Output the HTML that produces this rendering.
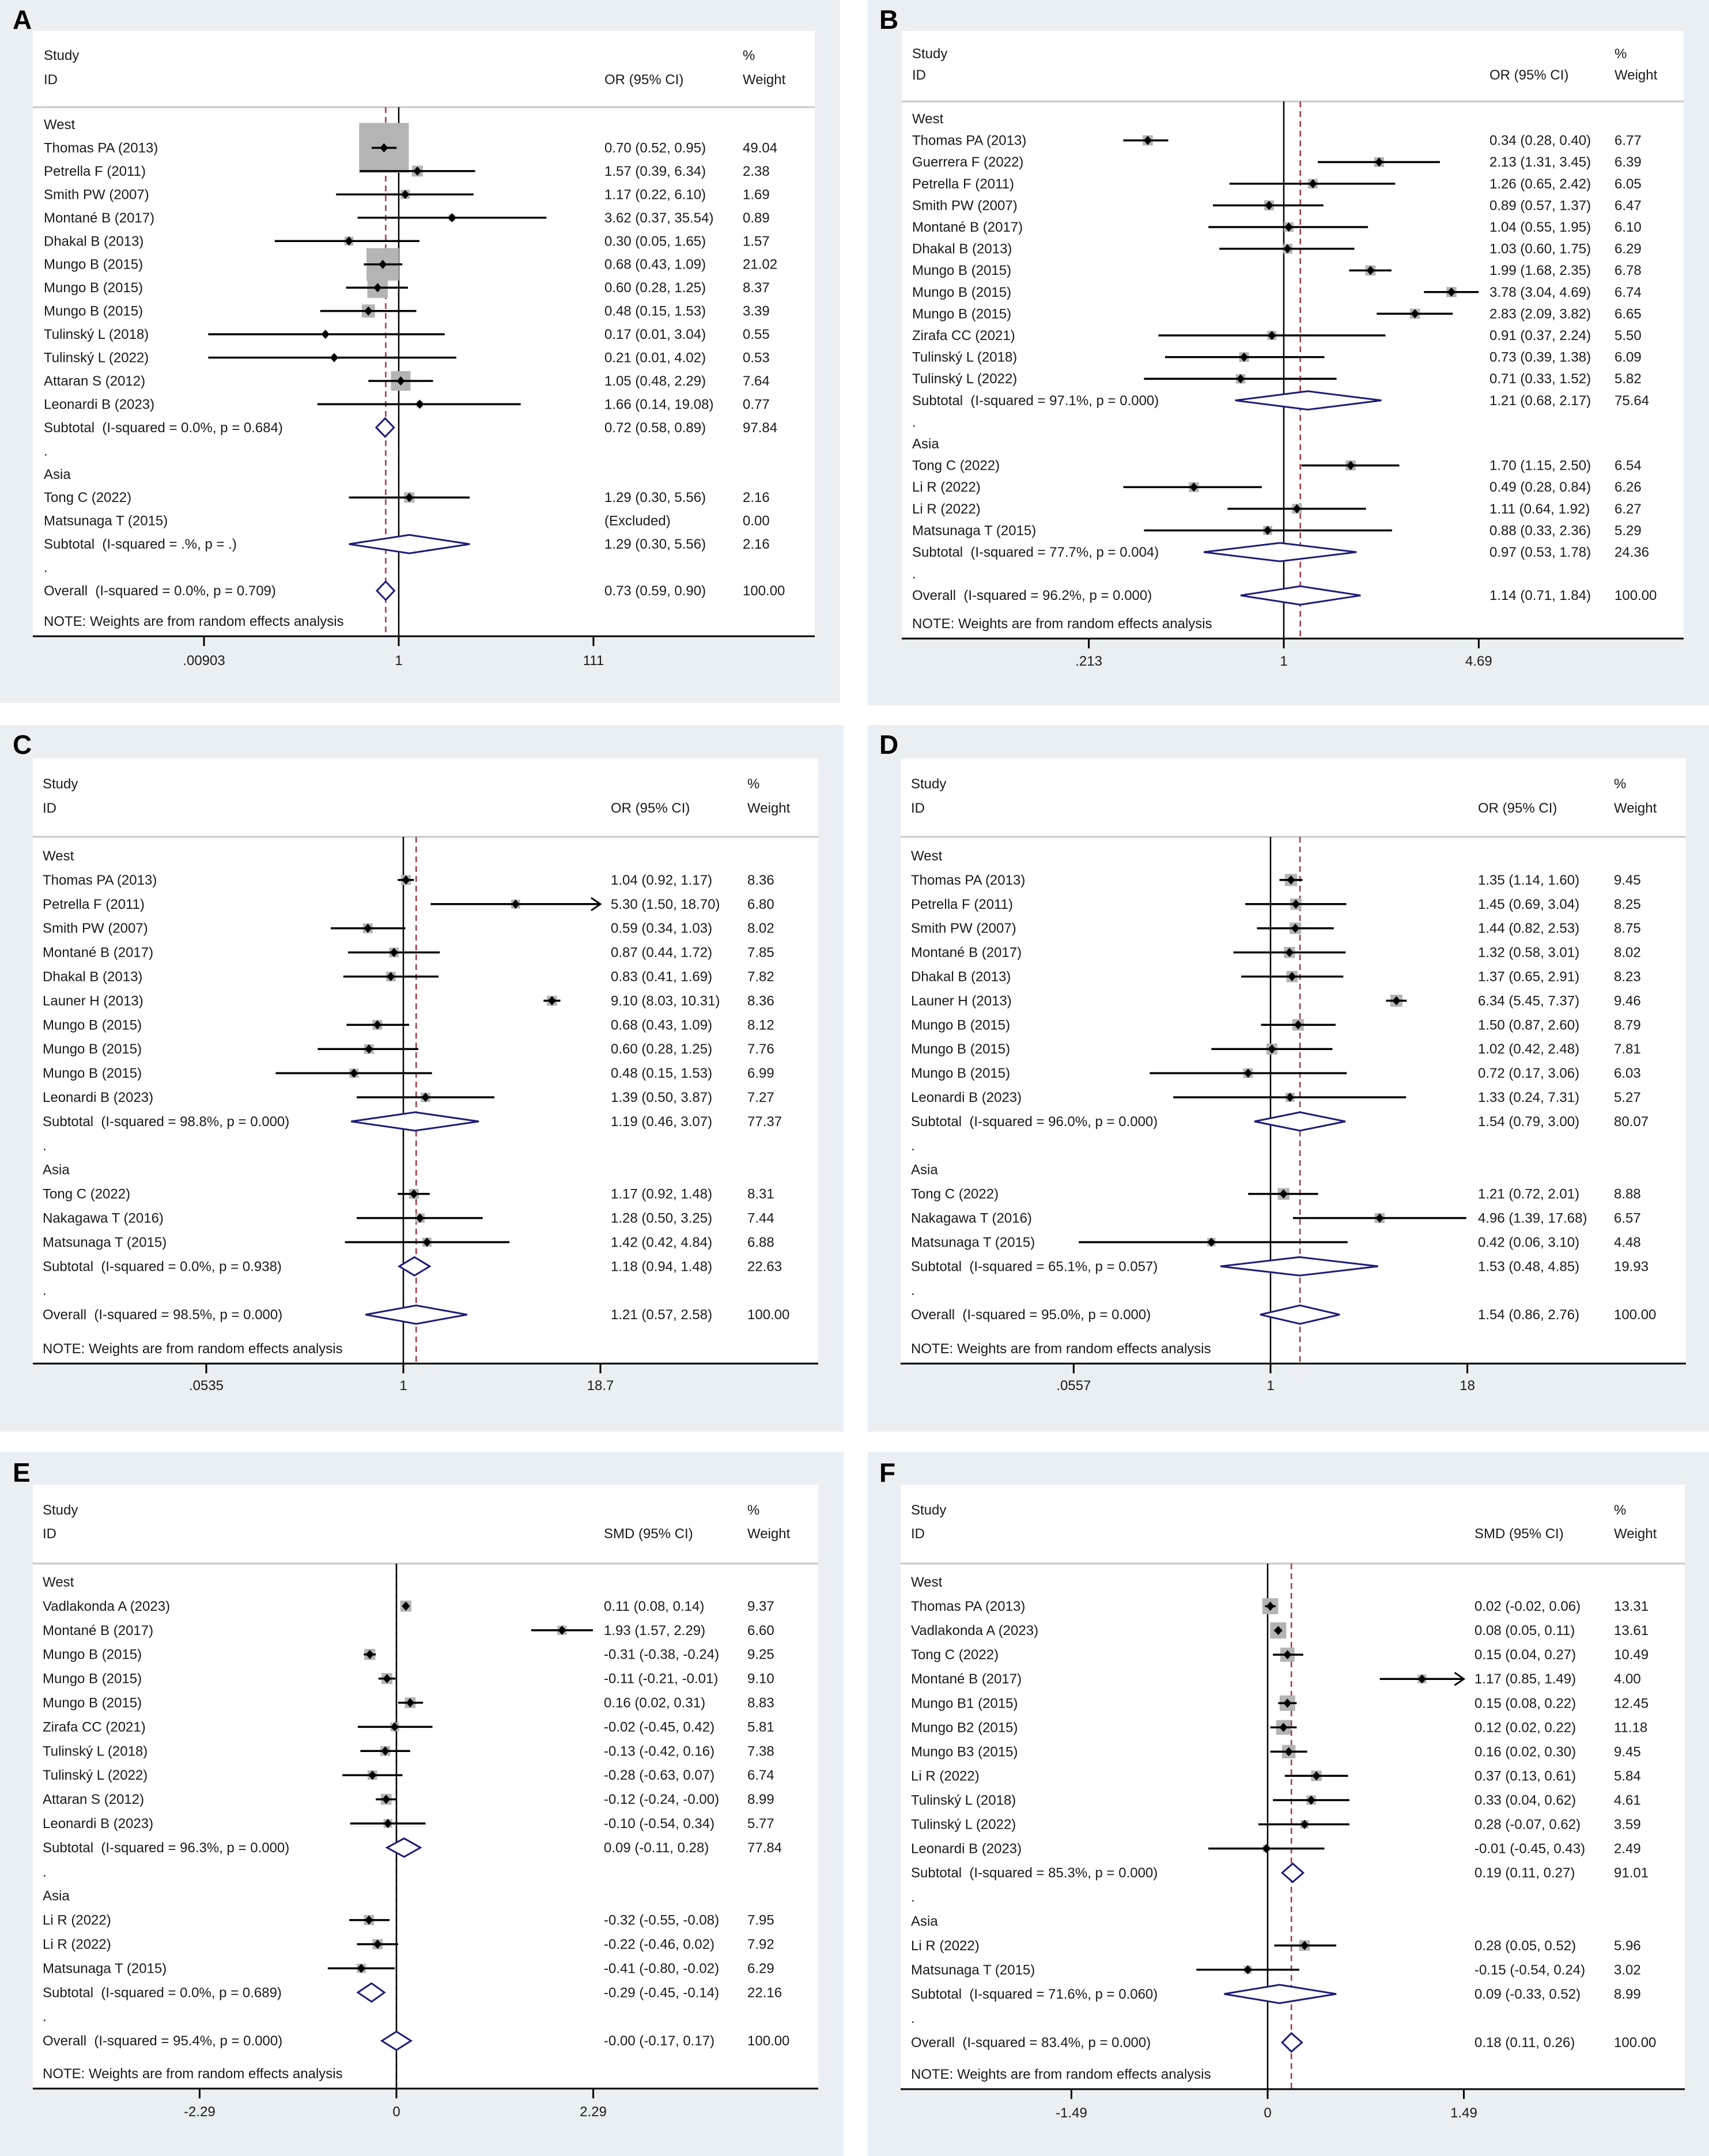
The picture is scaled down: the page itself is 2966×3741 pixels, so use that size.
<!DOCTYPE html>
<html><head><meta charset="utf-8">
<style>
html,body{margin:0;padding:0;background:#fff;}
svg{display:block;font-family:"Liberation Sans",Arial,sans-serif;}
text{white-space:pre;}
</style></head>
<body>
<svg id="fig" xmlns="http://www.w3.org/2000/svg" width="2966" height="3741" viewBox="0 0 2966 3741"></svg>
<script>
// ---------- DATA ----------
// kinds: g = text-only row, s = study, x = excluded study, p = pooled subtotal, o = overall
const aKinds = ['g','s','s','s','s','s','s','s','s','s','s','s','s','p','g','g','s','x','p','g','o'];
const aLabels = ['West','Thomas PA (2013)','Petrella F (2011)','Smith PW (2007)','Montané B (2017)','Dhakal B (2013)','Mungo B (2015)','Mungo B (2015)','Mungo B (2015)','Tulinský L (2018)','Tulinský L (2022)','Attaran S (2012)','Leonardi B (2023)','Subtotal  (I-squared = 0.0%, p = 0.684)','.','Asia','Tong C (2022)','Matsunaga T (2015)','Subtotal  (I-squared = .%, p = .)','.','Overall  (I-squared = 0.0%, p = 0.709)'];
const aEst = [null,0.70,1.57,1.17,3.62,0.30,0.68,0.60,0.48,0.17,0.21,1.05,1.66,0.72,null,null,1.29,null,1.29,null,0.73];
const aLo  = [null,0.52,0.39,0.22,0.37,0.05,0.43,0.28,0.15,0.01,0.01,0.48,0.14,0.58,null,null,0.30,null,0.30,null,0.59];
const aHi  = [null,0.95,6.34,6.10,35.54,1.65,1.09,1.25,1.53,3.04,4.02,2.29,19.08,0.89,null,null,5.56,null,5.56,null,0.90];
const aWt  = [null,49.04,2.38,1.69,0.89,1.57,21.02,8.37,3.39,0.55,0.53,7.64,0.77,97.84,null,null,2.16,0.00,2.16,null,100.00];
const aTickVals = [0.00903,1,110.7];
const aTickLabels = ['.00903','1','111'];

const bKinds = ['g','s','s','s','s','s','s','s','s','s','s','s','s','p','g','g','s','s','s','s','p','g','o'];
const bLabels = ['West','Thomas PA (2013)','Guerrera F (2022)','Petrella F (2011)','Smith PW (2007)','Montané B (2017)','Dhakal B (2013)','Mungo B (2015)','Mungo B (2015)','Mungo B (2015)','Zirafa CC (2021)','Tulinský L (2018)','Tulinský L (2022)','Subtotal  (I-squared = 97.1%, p = 0.000)','.','Asia','Tong C (2022)','Li R (2022)','Li R (2022)','Matsunaga T (2015)','Subtotal  (I-squared = 77.7%, p = 0.004)','.','Overall  (I-squared = 96.2%, p = 0.000)'];
const bEst = [null,0.34,2.13,1.26,0.89,1.04,1.03,1.99,3.78,2.83,0.91,0.73,0.71,1.21,null,null,1.70,0.49,1.11,0.88,0.97,null,1.14];
const bLo  = [null,0.28,1.31,0.65,0.57,0.55,0.60,1.68,3.04,2.09,0.37,0.39,0.33,0.68,null,null,1.15,0.28,0.64,0.33,0.53,null,0.71];
const bHi  = [null,0.40,3.45,2.42,1.37,1.95,1.75,2.35,4.69,3.82,2.24,1.38,1.52,2.17,null,null,2.50,0.84,1.92,2.36,1.78,null,1.84];
const bWt  = [null,6.77,6.39,6.05,6.47,6.10,6.29,6.78,6.74,6.65,5.50,6.09,5.82,75.64,null,null,6.54,6.26,6.27,5.29,24.36,null,100.00];
const bTickVals = [0.213,1,4.695];
const bTickLabels = ['.213','1','4.69'];

const cKinds = ['g','s','s','s','s','s','s','s','s','s','s','p','g','g','s','s','s','p','g','o'];
const cLabels = ['West','Thomas PA (2013)','Petrella F (2011)','Smith PW (2007)','Montané B (2017)','Dhakal B (2013)','Launer H (2013)','Mungo B (2015)','Mungo B (2015)','Mungo B (2015)','Leonardi B (2023)','Subtotal  (I-squared = 98.8%, p = 0.000)','.','Asia','Tong C (2022)','Nakagawa T (2016)','Matsunaga T (2015)','Subtotal  (I-squared = 0.0%, p = 0.938)','.','Overall  (I-squared = 98.5%, p = 0.000)'];
const cEst = [null,1.04,5.30,0.59,0.87,0.83,9.10,0.68,0.60,0.48,1.39,1.19,null,null,1.17,1.28,1.42,1.18,null,1.21];
const cLo  = [null,0.92,1.50,0.34,0.44,0.41,8.03,0.43,0.28,0.15,0.50,0.46,null,null,0.92,0.50,0.42,0.94,null,0.57];
const cHi  = [null,1.17,18.70,1.03,1.72,1.69,10.31,1.09,1.25,1.53,3.87,3.07,null,null,1.48,3.25,4.84,1.48,null,2.58];
const cWt  = [null,8.36,6.80,8.02,7.85,7.82,8.36,8.12,7.76,6.99,7.27,77.37,null,null,8.31,7.44,6.88,22.63,null,100.00];
const cTickVals = [0.0535,1,18.69];
const cTickLabels = ['.0535','1','18.7'];

const dKinds = ['g','s','s','s','s','s','s','s','s','s','s','p','g','g','s','s','s','p','g','o'];
const dLabels = ['West','Thomas PA (2013)','Petrella F (2011)','Smith PW (2007)','Montané B (2017)','Dhakal B (2013)','Launer H (2013)','Mungo B (2015)','Mungo B (2015)','Mungo B (2015)','Leonardi B (2023)','Subtotal  (I-squared = 96.0%, p = 0.000)','.','Asia','Tong C (2022)','Nakagawa T (2016)','Matsunaga T (2015)','Subtotal  (I-squared = 65.1%, p = 0.057)','.','Overall  (I-squared = 95.0%, p = 0.000)'];
const dEst = [null,1.35,1.45,1.44,1.32,1.37,6.34,1.50,1.02,0.72,1.33,1.54,null,null,1.21,4.96,0.42,1.53,null,1.54];
const dLo  = [null,1.14,0.69,0.82,0.58,0.65,5.45,0.87,0.42,0.17,0.24,0.79,null,null,0.72,1.39,0.06,0.48,null,0.86];
const dHi  = [null,1.60,3.04,2.53,3.01,2.91,7.37,2.60,2.48,3.06,7.31,3.00,null,null,2.01,17.68,3.10,4.85,null,2.76];
const dWt  = [null,9.45,8.25,8.75,8.02,8.23,9.46,8.79,7.81,6.03,5.27,80.07,null,null,8.88,6.57,4.48,19.93,null,100.00];
const dTickVals = [0.0557,1,17.95];
const dTickLabels = ['.0557','1','18'];

const eKinds = ['g','s','s','s','s','s','s','s','s','s','s','p','g','g','s','s','s','p','g','o'];
const eLabels = ['West','Vadlakonda A (2023)','Montané B (2017)','Mungo B (2015)','Mungo B (2015)','Mungo B (2015)','Zirafa CC (2021)','Tulinský L (2018)','Tulinský L (2022)','Attaran S (2012)','Leonardi B (2023)','Subtotal  (I-squared = 96.3%, p = 0.000)','.','Asia','Li R (2022)','Li R (2022)','Matsunaga T (2015)','Subtotal  (I-squared = 0.0%, p = 0.689)','.','Overall  (I-squared = 95.4%, p = 0.000)'];
const eEst = [null,0.11,1.93,-0.31,-0.11,0.16,-0.02,-0.13,-0.28,-0.12,-0.10,0.09,null,null,-0.32,-0.22,-0.41,-0.29,null,-0];
const eLo  = [null,0.08,1.57,-0.38,-0.21,0.02,-0.45,-0.42,-0.63,-0.24,-0.54,-0.11,null,null,-0.55,-0.46,-0.80,-0.45,null,-0.17];
const eHi  = [null,0.14,2.29,-0.24,-0.01,0.31,0.42,0.16,0.07,-0,0.34,0.28,null,null,-0.08,0.02,-0.02,-0.14,null,0.17];
const eWt  = [null,9.37,6.60,9.25,9.10,8.83,5.81,7.38,6.74,8.99,5.77,77.84,null,null,7.95,7.92,6.29,22.16,null,100.00];
const eTickVals = [-2.294,0,2.294];
const eTickLabels = ['-2.29','0','2.29'];

const fKinds = ['g','s','s','s','s','s','s','s','s','s','s','s','p','g','g','s','s','p','g','o'];
const fLabels = ['West','Thomas PA (2013)','Vadlakonda A (2023)','Tong C (2022)','Montané B (2017)','Mungo B1 (2015)','Mungo B2 (2015)','Mungo B3 (2015)','Li R (2022)','Tulinský L (2018)','Tulinský L (2022)','Leonardi B (2023)','Subtotal  (I-squared = 85.3%, p = 0.000)','.','Asia','Li R (2022)','Matsunaga T (2015)','Subtotal  (I-squared = 71.6%, p = 0.060)','.','Overall  (I-squared = 83.4%, p = 0.000)'];
const fEst = [null,0.02,0.08,0.15,1.17,0.15,0.12,0.16,0.37,0.33,0.28,-0.01,0.19,null,null,0.28,-0.15,0.09,null,0.18];
const fLo  = [null,-0.02,0.05,0.04,0.85,0.08,0.02,0.02,0.13,0.04,-0.07,-0.45,0.11,null,null,0.05,-0.54,-0.33,null,0.11];
const fHi  = [null,0.06,0.11,0.27,1.49,0.22,0.22,0.30,0.61,0.62,0.62,0.43,0.27,null,null,0.52,0.24,0.52,null,0.26];
const fWt  = [null,13.31,13.61,10.49,4.00,12.45,11.18,9.45,5.84,4.61,3.59,2.49,91.01,null,null,5.96,3.02,8.99,null,100.00];
const fTickVals = [-1.487,0,1.487];
const fTickLabels = ['-1.49','0','1.49'];

// ---------- LAYOUT (geometry only) ----------
const panels = [
 {id:'a',letter:'A',kinds:aKinds,labels:aLabels,est:aEst,lo:aLo,hi:aHi,wt:aWt,tv:aTickVals,tl:aTickLabels,
  log:true,measure:'OR (95% CI)',bg:[0,0,1458,1220],wx:[57,1414],wy0:54,head:186,axis:1104,studyY:96,idY:138,
  row0:216,sp:40.45,labX:76,ciX:1049,wtX:1289,nullX:692,kpx:71.8,tickY:1146,letterX:22,letterY:50,boxC:12.3},
 {id:'b',letter:'B',kinds:bKinds,labels:bLabels,est:bEst,lo:bLo,hi:bHi,wt:bWt,tv:bTickVals,tl:bTickLabels,
  log:true,measure:'OR (95% CI)',bg:[1506,0,1460,1224],wx:[1565,2922],wy0:54,head:176,axis:1108,studyY:93,idY:130,
  row0:206,sp:37.6,labX:1583,ciX:2585,wtX:2802,nullX:2228,kpx:218.8,tickY:1147,letterX:1526,letterY:50,boxC:6.8},
 {id:'c',letter:'C',kinds:cKinds,labels:cLabels,est:cEst,lo:cLo,hi:cHi,wt:cWt,tv:cTickVals,tl:cTickLabels,
  log:true,measure:'OR (95% CI)',bg:[0,1258,1464,1226],wx:[57,1420],wy0:1316,head:1452,axis:2366,studyY:1360,idY:1402,
  row0:1485,sp:41.9,labX:74,ciX:1060,wtX:1297,nullX:700,kpx:116.8,tickY:2404,letterX:22,letterY:1308,boxC:6.0},
 {id:'d',letter:'D',kinds:dKinds,labels:dLabels,est:dEst,lo:dLo,hi:dHi,wt:dWt,tv:dTickVals,tl:dTickLabels,
  log:true,measure:'OR (95% CI)',bg:[1506,1258,1460,1226],wx:[1563,2926],wy0:1316,head:1452,axis:2366,studyY:1360,idY:1402,
  row0:1485,sp:41.9,labX:1581,ciX:2565,wtX:2801,nullX:2205,kpx:118.3,tickY:2404,letterX:1526,letterY:1308,boxC:6.8},
 {id:'e',letter:'E',kinds:eKinds,labels:eLabels,est:eEst,lo:eLo,hi:eHi,wt:eWt,tv:eTickVals,tl:eTickLabels,
  log:false,measure:'SMD (95% CI)',bg:[0,2520,1464,1221],wx:[57,1420],wy0:2576,head:2713,axis:3624,studyY:2620,idY:2661,
  row0:2745,sp:41.9,labX:74,ciX:1048,wtX:1297,nullX:688,kpx:148.9,tickY:3664,letterX:22,letterY:2571,boxC:6.3},
 {id:'f',letter:'F',kinds:fKinds,labels:fLabels,est:fEst,lo:fLo,hi:fHi,wt:fWt,tv:fTickVals,tl:fTickLabels,
  log:false,measure:'SMD (95% CI)',bg:[1506,2520,1460,1221],wx:[1563,2924],wy0:2576,head:2713,axis:3625,studyY:2620,idY:2661,
  row0:2745,sp:42.05,labX:1581,ciX:2559,wtX:2801,nullX:2200,kpx:229,tickY:3666,letterX:1526,letterY:2571,boxC:7.6}
];

const NS='http://www.w3.org/2000/svg';
const svg=document.getElementById('fig');
function mk(tag,attrs,parent){const e=document.createElementNS(NS,tag);for(const k in attrs)e.setAttribute(k,attrs[k]);(parent||svg).appendChild(e);return e;}
function txt(parent,x,y,s,extra){const t=mk('text',Object.assign({x:x,y:y,'font-size':24,fill:'#1a1a1a'},extra||{}),parent);t.textContent=s;return t;}
function fmt(v){const neg=v<0||Object.is(v,-0);return (neg?'-':'')+Math.abs(v).toFixed(2);}

panels.forEach(P=>{
  const g=mk('g',{});
  
  
  const xs=v=>P.nullX+P.kpx*(P.log?Math.log(v):v);
  const yr=i=>P.row0+i*P.sp;
  const bg=mk('rect',{x:P.bg[0],y:P.bg[1],width:P.bg[2],height:P.bg[3],fill:'#e9eff2'},g);
  
  
  const wr=mk('rect',{x:P.wx[0],y:P.wy0,width:P.wx[1]-P.wx[0],height:P.axis-P.wy0,fill:'#ffffff'},g);
  
  
  const lt=txt(g,P.letterX,P.letterY,P.letter,{'font-size':46,'font-weight':'bold',fill:'#000'});
  
  
  const hdr=[['Study',P.labX,P.studyY],['ID',P.labX,P.idY],[P.measure,P.ciX,P.idY],['%',P.wtX,P.studyY],['Weight',P.wtX,P.idY]];
  hdr.forEach(h=>{const t=txt(g,h[1],h[2]+8,h[0]);});
  const hl=mk('line',{x1:P.wx[0],x2:P.wx[1],y1:P.head,y2:P.head,stroke:'#c8c8c8','stroke-width':3},g);
  
  
  // overall dashed
  const oi=P.kinds.indexOf('o');
  const dl=mk('line',{x1:xs(P.est[oi]),x2:xs(P.est[oi]),y1:P.head,y2:P.axis,stroke:'#a8343e','stroke-width':2.5,'stroke-dasharray':'10,7'},g);
  
  
  // null line (drawn over dashed line)
  const nl=mk('line',{x1:xs(P.log?1:0),x2:xs(P.log?1:0),y1:P.head,y2:P.axis,stroke:'#000','stroke-width':2.5},g);
  
  
  const tmin=P.tv[0],tmax=P.tv[P.tv.length-1];
  P.kinds.forEach((k,i)=>{
    const y=yr(i);
    const lab=txt(g,P.labX,y+8,P.labels[i]);
    
    
    if(k==='g')return;
    const ci=txt(g,P.ciX,y+8,k==='x'?'(Excluded)':fmt(P.est[i])+' ('+fmt(P.lo[i])+', '+fmt(P.hi[i])+')');
    
    
    const wt=txt(g,P.wtX,y+8,P.wt[i].toFixed(2));
    
    
    if(k==='x')return;
    if(k==='s'){
      const s=P.boxC*Math.sqrt(P.wt[i]);
      const bx=mk('rect',{x:xs(P.est[i])-s/2,y:y-s/2,width:s,height:s,fill:'#b4b4b4'},g);
      
      
      const lo=Math.max(P.lo[i],tmin),hi=Math.min(P.hi[i],tmax);
      const cl=mk('line',{x1:xs(lo),x2:xs(hi),y1:y,y2:y,stroke:'#000','stroke-width':3.5},g);
      
      
      if(P.hi[i]>tmax){
        const ax=xs(tmax);
        const ar=mk('polyline',{points:(ax-16)+','+(y-11)+' '+ax+','+y+' '+(ax-16)+','+(y+11),fill:'none',stroke:'#000','stroke-width':3},g);
        
        
      }
      const cx=xs(P.est[i]);
      const pt=mk('polygon',{points:(cx-7)+','+y+' '+cx+','+(y-8)+' '+(cx+7)+','+y+' '+cx+','+(y+8),fill:'#000'},g);
      
      
    } else {
      const h=16,cx=xs(P.est[i]);
      const dm=mk('polygon',{points:xs(P.lo[i])+','+y+' '+cx+','+(y-h)+' '+xs(P.hi[i])+','+y+' '+cx+','+(y+h),fill:'#fff',stroke:'#1c1c78','stroke-width':3},g);
      
      
    }
  });
  const note=txt(g,P.labX,P.axis-18,'NOTE: Weights are from random effects analysis');
  
  
  const ax=mk('line',{x1:P.wx[0],x2:P.wx[1],y1:P.axis,y2:P.axis,stroke:'#000','stroke-width':3},g);
  
  
  P.tv.forEach((v,j)=>{
    const tx=xs(v);
    const tk=mk('line',{x1:tx,x2:tx,y1:P.axis,y2:P.axis+17,stroke:'#000','stroke-width':3},g);
    
    
    const tl=txt(g,tx,P.tickY+8,P.tl[j],{'text-anchor':'middle'});
    
    
  });
});
</script>
</body></html>
